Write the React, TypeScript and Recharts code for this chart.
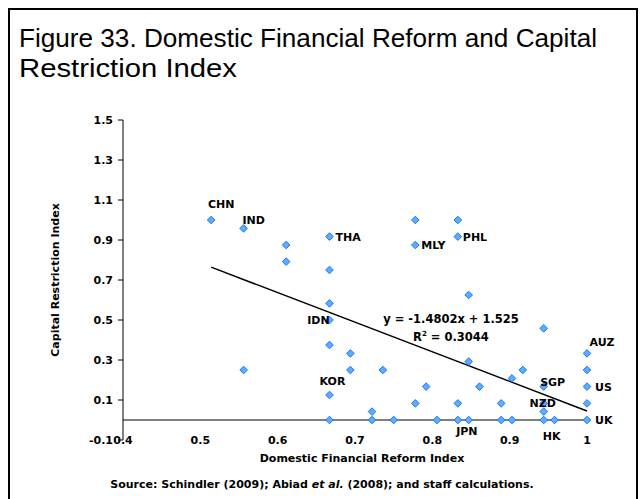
import { ScatterChart, Scatter, XAxis, YAxis, ReferenceLine } from 'recharts';

// Domestic financial reform index (x) and capital restriction index (y), one entry per country-point
const reformIndex = [
  0.514, 0.556, 0.556, 0.611, 0.611, 0.667, 0.667, 0.667, 0.667, 0.667, 0.667, 0.667,
  0.694, 0.694, 0.722, 0.722, 0.736, 0.75, 0.778, 0.778, 0.778, 0.792, 0.806, 0.833,
  0.833, 0.833, 0.833, 0.847, 0.847, 0.847, 0.861, 0.889, 0.889, 0.903, 0.903, 0.917,
  0.944, 0.944, 0.944, 0.944, 0.944, 0.958, 1, 1, 1, 1, 1,
];
const restrictionIndex = [
  1.0, 0.958, 0.25, 0.875, 0.792, 0.917, 0.75, 0.583, 0.5, 0.375, 0.125, 0,
  0.333, 0.25, 0.042, 0, 0.25, 0, 1.0, 0.875, 0.083, 0.167, 0, 1.0,
  0.917, 0.083, 0, 0.625, 0.292, 0, 0.167, 0.083, 0, 0.208, 0, 0.25,
  0.458, 0.167, 0.083, 0.042, 0, 0, 0.333, 0.25, 0.167, 0.083, 0,
];

const countryNames = ['CHN', 'IND', 'THA', 'MLY', 'PHL', 'IDN', 'KOR', 'JPN', 'HK', 'UK', 'US', 'AUZ', 'SGP', 'NZD'];
const countryX = [0.514, 0.556, 0.667, 0.778, 0.833, 0.667, 0.667, 0.833, 0.944, 1, 1, 1, 0.944, 0.944];
const countryY = [1.0, 0.958, 0.917, 0.875, 0.917, 0.5, 0.125, 0, 0, 0, 0.167, 0.333, 0.167, 0.083];

const xTicks = [0.4, 0.5, 0.6, 0.7, 0.8, 0.9, 1];
const yTicks = [-0.1, 0.1, 0.3, 0.5, 0.7, 0.9, 1.1, 1.3, 1.5];

const slope = -1.4802;
const intercept = 1.525;

const points = reformIndex.map((x, i) => ({ x, y: restrictionIndex[i] }));
const countries = countryNames.map((name, i) => ({ name, x: countryX[i], y: countryY[i] }));

// where each country label sits relative to its point
const labelPos: Record<string, { dx: number; dy: number; anchor: string }> = {
  CHN: { dx: 10, dy: -16, anchor: 'middle' },
  IND: { dx: 10, dy: -8, anchor: 'middle' },
  THA: { dx: 6, dy: 0, anchor: 'start' },
  MLY: { dx: 6, dy: 0, anchor: 'start' },
  PHL: { dx: 5, dy: 0, anchor: 'start' },
  IDN: { dx: -11, dy: 0, anchor: 'middle' },
  KOR: { dx: 3, dy: -14, anchor: 'middle' },
  JPN: { dx: 9, dy: 11, anchor: 'middle' },
  HK: { dx: 8, dy: 16, anchor: 'middle' },
  UK: { dx: 8, dy: 0, anchor: 'start' },
  US: { dx: 8, dy: 0, anchor: 'start' },
  AUZ: { dx: 15, dy: -11, anchor: 'middle' },
  SGP: { dx: 9, dy: -5, anchor: 'middle' },
  NZD: { dx: -1, dy: 0, anchor: 'middle' },
};

const FONT = '"DejaVu Sans", Verdana, sans-serif';
const TITLE_FONT = '"Liberation Sans", Arial, sans-serif';

const Diamond = (props: any) => {
  const { cx, cy } = props;
  if (cx == null || cy == null) return null;
  const r = 3.8;
  return (
    <polygon
      points={`${cx},${cy - r} ${cx + r},${cy} ${cx},${cy + r} ${cx - r},${cy}`}
      fill="#5cadff"
      stroke="#1a75ff"
      strokeWidth={1}
    />
  );
};

const CountryLabel = (props: any) => {
  const { cx, cy, payload } = props;
  if (cx == null || cy == null) return null;
  const p = labelPos[payload.name];
  return (
    <text
      x={cx + p.dx}
      y={cy + p.dy}
      dy="0.36em"
      textAnchor={p.anchor}
      fontFamily={FONT}
      fontWeight="bold"
      fontSize={11}
      fill="#000"
    >
      {payload.name}
    </text>
  );
};

const XTick = (props: any) => {
  const { x, y, payload } = props;
  return (
    <text x={x} y={y + 4} textAnchor="middle" fontFamily={FONT} fontWeight="bold" fontSize={11} fill="#000">
      {payload.value}
    </text>
  );
};

export default function App() {
  const xMin = Math.min(...reformIndex);
  const xMax = Math.max(...reformIndex);

  return (
    <div style={{ position: 'absolute', left: 0, top: 0, width: 643, height: 499, background: '#fff', overflow: 'hidden' }}>
      <div
        style={{
          position: 'absolute',
          left: 8,
          top: 8,
          width: 626,
          height: 520,
          border: '2px solid #000',
        }}
      />
      <div style={{ position: 'absolute', left: 0, top: 0 }}>
        <ScatterChart width={643} height={499} margin={{ top: 120, right: 56, bottom: 29, left: 63 }}>
          <XAxis
            type="number"
            dataKey="x"
            domain={[0.4, 1]}
            ticks={xTicks}
            axisLine={false}
            tickLine={false}
            tickSize={0}
            tickMargin={0}
            height={30}
            tick={<XTick />}
            interval={0}
          />
          <YAxis
            type="number"
            dataKey="y"
            domain={[-0.1, 1.5]}
            ticks={yTicks}
            width={60}
            interval={0}
            axisLine={{ stroke: '#000' }}
            tickLine={{ stroke: '#000' }}
            tickSize={5}
            tickMargin={5}
            tick={{ fontFamily: FONT, fontWeight: 'bold', fontSize: 11, fill: '#000' }}
          />
          <ReferenceLine y={0} stroke="#000" strokeWidth={1} />
          <ReferenceLine
            segment={[
              { x: xMin, y: slope * xMin + intercept },
              { x: xMax, y: slope * xMax + intercept },
            ]}
            stroke="#000"
            strokeWidth={1.5}
            ifOverflow="visible"
          />
          <Scatter data={points} shape={<Diamond />} isAnimationActive={false} />
          <Scatter data={countries} shape={<CountryLabel />} isAnimationActive={false} />
        </ScatterChart>
      </div>
      <svg width={643} height={499} style={{ position: 'absolute', left: 0, top: 0, pointerEvents: 'none' }}>
        <text x={19} y={47} fontFamily={TITLE_FONT} fontSize={26} fill="#000" textLength={578} lengthAdjust="spacingAndGlyphs">
          Figure 33. Domestic Financial Reform and Capital
        </text>
        <text x={19} y={77} fontFamily={TITLE_FONT} fontSize={26} fill="#000" textLength={218} lengthAdjust="spacingAndGlyphs">
          Restriction Index
        </text>
        <text
          x={0}
          y={0}
          transform="translate(59,280) rotate(-90)"
          textAnchor="middle"
          fontFamily={FONT}
          fontWeight="bold"
          fontSize={11}
        >
          Capital Restriction Index
        </text>
        <text x={362} y={462} textAnchor="middle" fontFamily={FONT} fontWeight="bold" fontSize={11}>
          Domestic Financial Reform Index
        </text>
        <text x={322} y={488} textAnchor="middle" fontFamily={FONT} fontWeight="bold" fontSize={11}>
          Source: Schindler (2009); Abiad <tspan fontStyle="italic">et al.</tspan> (2008); and staff calculations.
        </text>
        <text x={451} y={323} textAnchor="middle" fontFamily={FONT} fontWeight="bold" fontSize={11.5}>
          y = -1.4802x + 1.525
        </text>
        <text x={451} y={341} textAnchor="middle" fontFamily={FONT} fontWeight="bold" fontSize={11.5}>
          R<tspan fontSize={7} dy={-5}>2</tspan>
          <tspan dy={5}> = 0.3044</tspan>
        </text>
      </svg>
    </div>
  );
}
